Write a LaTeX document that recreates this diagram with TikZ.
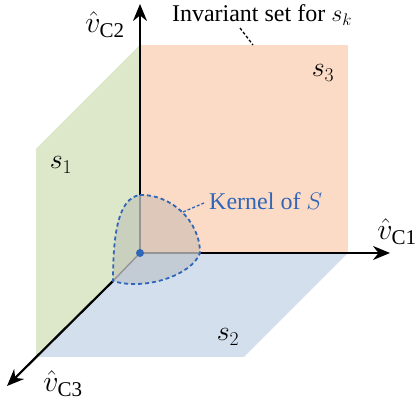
\documentclass[tikz,border=0pt]{standalone}
\usepackage{fontspec}
\setmainfont{Liberation Serif}
\DeclareFontShape{OML}{cmm}{m}{it}{<-6>cmmi5<6-7>cmmi6<7-8>cmmi7<8-9>cmmi8<9-10>cmmi9<10-12>cmmi10<12->cmmi12}{}
\DeclareFontShape{OT1}{cmr}{m}{n}{<-6>cmr5<6-7>cmr6<7-8>cmr7<8-9>cmr8<9-10>cmr9<10-12>cmr10<12-17>cmr12<17->cmr17}{}
\usetikzlibrary{arrows.meta}
\definecolor{peach}{RGB}{252,219,198}
\definecolor{sage}{RGB}{221,232,202}
\definecolor{sky}{RGB}{212,223,238}
\definecolor{kblue}{RGB}{48,102,184}
\tikzset{
  lbl/.style={font=\fontsize{24}{28}\selectfont, inner sep=0pt},
  slbl/.style={font=\fontsize{28}{32}\selectfont, inner sep=0pt},
  vlbl/.style={font=\fontsize{30}{34}\selectfont, inner sep=0pt},
  axis/.style={line width=2.2pt, -{Stealth[length=17pt,width=14pt]}},
  inaxis/.style={line width=1.4pt, black!45},
  kern/.style={draw=kblue, line width=1.8pt, dash pattern=on 4pt off 3pt, fill=black!35, fill opacity=0.35, draw opacity=1},
  lead/.style={line width=1.3pt, dash pattern=on 3pt off 2pt},
}
\begin{document}
\begin{tikzpicture}[x=1pt,y=-1pt]
\useasboundingbox (0,0) rectangle (416,406);
% key points
\coordinate (O) at (140,253);
\coordinate (T) at (140,195);
\coordinate (R) at (200,253);
\coordinate (L) at (113,281);
\coordinate (E2) at (140,4);
\coordinate (E1) at (390,253);
\coordinate (E3) at (7,386);
% planes
\fill[peach] (140,45) rectangle (348,253);
\fill[sage] (140,45) -- (36,149) -- (36,357) -- (140,253) -- cycle;
\fill[sky] (140,253) -- (348,253) -- (244,357) -- (36,357) -- cycle;
% axes
\draw[inaxis] (O) -- (T);
\draw[inaxis] (O) -- (R);
\draw[inaxis] (O) -- (L);
\draw[axis] (T) -- (E2);
\draw[axis] (R) -- (E1);
\draw[axis] (L) -- (E3);
% kernel
\draw[kern] (T) .. controls (170,194) and (200,220) .. (R)
  .. controls (192,275) and (145,291) .. (L)
  .. controls (113,235) and (118,198) .. (T) -- cycle;
\fill[kblue] (O) circle (4pt);
% labels
\node[lbl, anchor=base] (inv) at (262,21.5) {Invariant set for $s_k$};
\node[lbl, anchor=base west, text=kblue] (ker) at (209,210) {Kernel of $S$};
\node[slbl] (s3) at (323,73) {$s_3$};
\node[slbl] (s1) at (61,165) {$s_1$};
\node[slbl] (s2) at (228,337) {$s_2$};
\node[vlbl] (c2) at (105,25) {$\hat{v}_{\mathrm{C2}}$};
\node[vlbl] (c1) at (397,232) {$\hat{v}_{\mathrm{C1}}$};
\node[vlbl] (c3) at (63,384) {$\hat{v}_{\mathrm{C3}}$};
% leaders
\coordinate (la) at (240,28);
\coordinate (lb) at (253,45);
\draw[lead] (la) -- (lb);
\coordinate (ka) at (183,212);
\coordinate (kb) at (204,203);
\draw[lead, kblue] (ka) -- (kb);
\end{tikzpicture}
\end{document}
